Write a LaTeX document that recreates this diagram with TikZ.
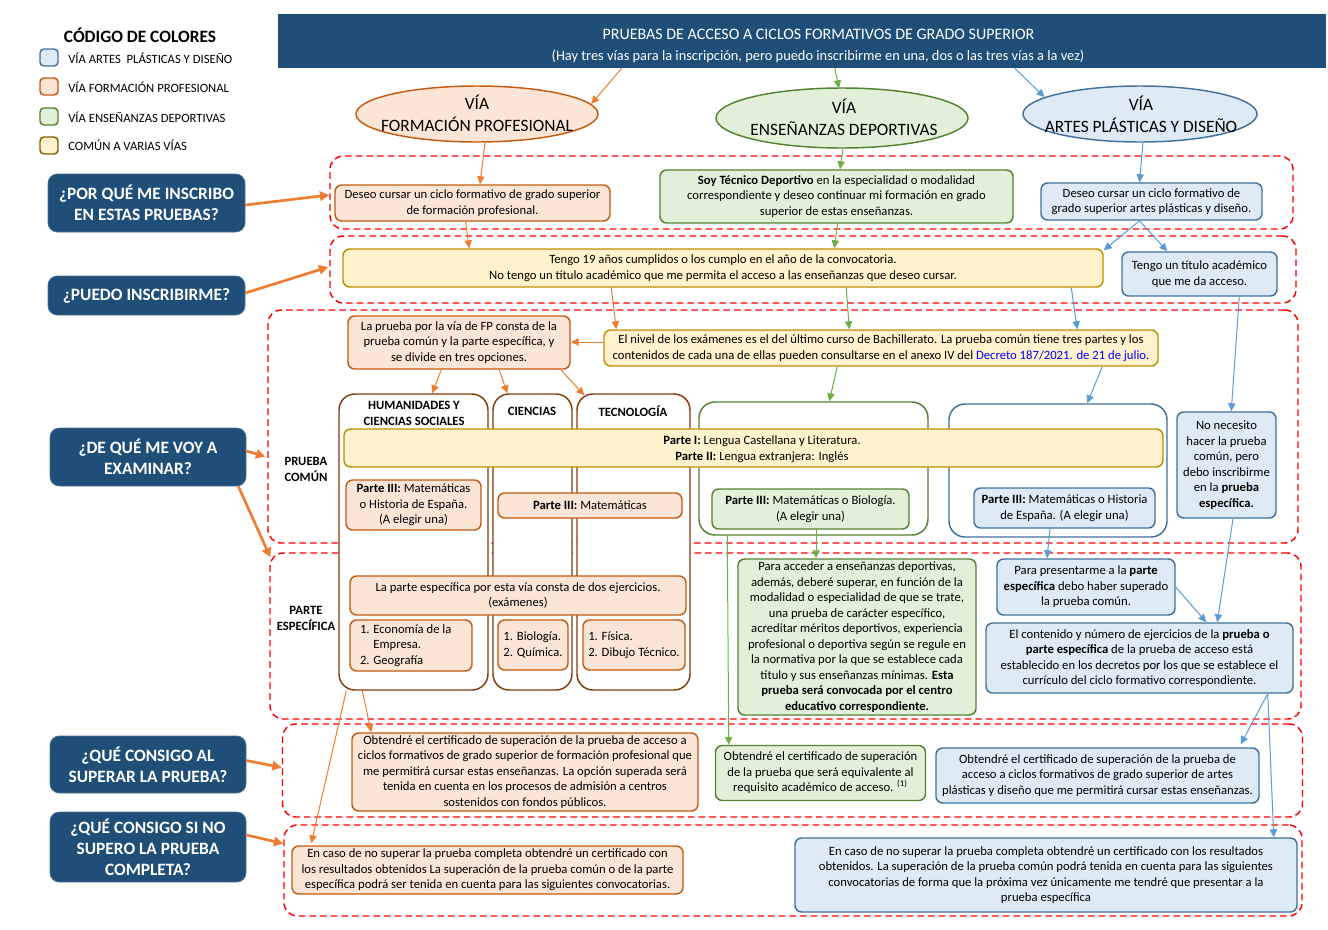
\documentclass[tikz,border=0pt]{standalone}
\usepackage{fontspec}
\setmainfont{Carlito}
\usetikzlibrary{arrows.meta,calc,shapes.geometric}
\definecolor{navy}{HTML}{1F4E79}
\definecolor{orF}{HTML}{FBE5D6}
\definecolor{orD}{HTML}{C55A11}
\definecolor{orA}{HTML}{ED7D31}
\definecolor{grF}{HTML}{E2F0D9}
\definecolor{grD}{HTML}{548235}
\definecolor{grA}{HTML}{70AD47}
\definecolor{blF}{HTML}{DEEBF7}
\definecolor{blD}{HTML}{41719C}
\definecolor{blA}{HTML}{5B9BD5}
\definecolor{yeF}{HTML}{FFF2CC}
\definecolor{yeD}{HTML}{BF9000}
\definecolor{yeL}{HTML}{7F6000}
\definecolor{brD}{HTML}{843C0C}
\definecolor{linkblue}{HTML}{0000FF}
\begin{document}
\begin{tikzpicture}[x=0.75pt,y=-0.75pt,
  font=\fontsize{9.5}{11.6}\selectfont,
  sz/.style 2 args={minimum width=#1*0.75pt, minimum height=#2*0.75pt},
  fpbox/.style={draw=orD, fill=orF, line width=1.1pt, rounded corners=5pt, align=center, inner sep=0pt},
  edbox/.style={draw=grD, fill=grF, line width=1.1pt, rounded corners=5pt, align=center, inner sep=0pt},
  apbox/.style={draw=blD, fill=blF, line width=1.1pt, rounded corners=5pt, align=center, inner sep=0pt},
  combox/.style={draw=yeD, fill=yeF, line width=1.1pt, rounded corners=5pt, align=center, inner sep=0pt},
  contbox/.style={fill=white, line width=1.1pt, rounded corners=12pt, inner sep=0pt},
  regbox/.style={draw=red, dash pattern=on 5pt off 3pt, line width=1.1pt, rounded corners=10pt, inner sep=0pt},
  qbox/.style={fill=navy, draw=navy!80!white, line width=0.6pt, rounded corners=7pt, text=white, align=center, inner sep=0pt, font=\fontsize{13}{15.8}\selectfont\bfseries},
  legsq/.style={line width=1.1pt, rounded corners=3pt, sz={18}{17}, inner sep=0pt},
  legtx/.style={anchor=west, inner sep=0pt, font=\fontsize{9.5}{11}\selectfont},
  eltx/.style={align=center, font=\fontsize{13}{16.5}\selectfont},
  coltit/.style={align=center, font=\fontsize{9.5}{12}\selectfont\bfseries},
  lbl/.style={align=center, font=\fontsize{9.5}{12}\selectfont\bfseries},
  fparr/.style={draw=orA, line width=0.75pt, -{Triangle[length=6pt,width=5.5pt]}},
  edarr/.style={draw=grA, line width=0.75pt, -{Triangle[length=6pt,width=5.5pt]}},
  aparr/.style={draw=blA, line width=0.75pt, -{Triangle[length=6pt,width=5.5pt]}},
  qarr/.style={draw=orA, line width=2pt, -{Triangle[length=7pt,width=7pt]}}
]
\useasboundingbox (0,0) rectangle (1328,929);
\fill[white] (0,0) rectangle (1328,929);

% dashed regions
\node[regbox, sz={963}{73}] (r1) at (811.5,192.5) {};
\node[regbox, sz={966}{67}] (r2) at (813,269.5) {};
\node[regbox, sz={1030}{233}] (r3) at (783,426.5) {};
\node[regbox, sz={1031}{166}] (r4) at (785.5,636) {};
\node[regbox, sz={1020}{93}] (r5) at (792.5,770.5) {};
\node[regbox, sz={1018}{91}] (r6) at (793,870.5) {};

% legend
\node[font=\fontsize{13}{15}\selectfont\bfseries, inner sep=0pt] (legT) at (140,35) {CÓDIGO DE COLORES};
\node[legsq, fill=blF, draw=blD] (lg1) at (49,57.5) {};
\node[legsq, fill=orF, draw=orD] (lg2) at (49,86.5) {};
\node[legsq, fill=grF, draw=grD] (lg3) at (49,116.5) {};
\node[legsq, fill=yeF, draw=yeL] (lg4) at (49,145.5) {};
\node[legtx] (lt1) at (68,58) {VÍA ARTES~ PLÁSTICAS Y DISEÑO};
\node[legtx] (lt2) at (68,87) {VÍA FORMACIÓN PROFESIONAL};
\node[legtx] (lt3) at (68,117) {VÍA ENSEÑANZAS DEPORTIVAS};
\node[legtx] (lt4) at (68,145) {COMÚN A VARIAS VÍAS};

% header
\node[fill=navy, sz={1048}{54}, inner sep=0pt] (hdr) at (802,41) {};
\node[text=white, inner sep=0pt, font=\fontsize{12}{13.5}\selectfont] (hdrT1) at (818.5,34.5) {PRUEBAS DE ACCESO A CICLOS FORMATIVOS DE GRADO SUPERIOR};
\node[text=white, inner sep=0pt, font=\fontsize{10.8}{13}\selectfont] (hdrT2) at (818,56) {(Hay tres vías para la inscripción, pero puedo inscribirme en una, dos o las tres vías a la vez)};

% ellipses
\node[ellipse, fill=orF, draw=orD, line width=1.1pt, sz={242}{56}, inner sep=0pt] (elFP) at (477,114) {};
\node[eltx] (elFPt) at (477,113) {VÍA\\FORMACIÓN PROFESIONAL};
\node[ellipse, fill=grF, draw=grD, line width=1.1pt, sz={252}{60}, inner sep=0pt] (elED) at (842,118) {};
\node[eltx] (elEDt) at (844,117) {VÍA\\ENSEÑANZAS DEPORTIVAS};
\node[ellipse, fill=blF, draw=blD, line width=1.1pt, sz={234}{56}, inner sep=0pt] (elAP) at (1140,114) {};
\node[eltx] (elAPt) at (1141,114) {VÍA\\ARTES PLÁSTICAS Y DISEÑO};

% questions
\node[qbox, sz={197}{58}] (q1) at (146.5,203) {¿POR QUÉ ME INSCRIBO\\EN ESTAS PRUEBAS?};
\node[qbox, sz={197}{39}] (q2) at (146.5,295.5) {¿PUEDO INSCRIBIRME?};
\node[qbox, sz={196}{58}] (q3) at (148,457) {¿DE QUÉ ME VOY A\\EXAMINAR?};
\node[qbox, sz={196}{57}] (q4) at (148,764.5) {¿QUÉ CONSIGO AL\\SUPERAR LA PRUEBA?};
\node[qbox, sz={196}{70}] (q5) at (148,847) {¿QUÉ CONSIGO SI NO\\SUPERO LA PRUEBA\\COMPLETA?};

% row 1
\node[fpbox, sz={275}{36}] (b1fp) at (472.5,203) {Deseo cursar un ciclo formativo de grado superior\\de formación profesional.};
\node[edbox, sz={353}{53}] (b1ed) at (836.5,196.5) {\textbf{Soy Técnico Deportivo} en la especialidad o modalidad\\correspondiente y deseo continuar mi formación en grado\\superior de estas enseñanzas.};
\node[apbox, sz={221}{37}] (b1ap) at (1151.5,201.5) {Deseo cursar un ciclo formativo de\\grado superior artes plásticas y diseño.};

% row 2
\node[combox, sz={760}{38}] (b2y) at (723,268) {Tengo 19 años cumplidos o los cumplo en el año de la convocatoria.\\No tengo un título académico que me permita el acceso a las enseñanzas que deseo cursar.};
\node[apbox, sz={155}{44}] (b2ap) at (1199.5,274) {Tengo un título académico\\que me da acceso.};

% row 3
\node[fpbox, sz={222}{53}] (b3fp) at (459,342.5) {La prueba por la vía de FP consta de la\\prueba común y la parte específica, y\\se divide en tres opciones.};
\node[combox, sz={554}{36}] (b3y) at (881,348) {El nivel de los exámenes es el del último curso de Bachillerato. La prueba común tiene tres partes y los\\contenidos de cada una de ellas pueden consultarse en el anexo IV del \textcolor{linkblue}{Decreto 187/2021. de 21 de julio}.};

\node[contbox, draw=brD, sz={149}{296}] (cHUM) at (413.5,542) {};
\node[contbox, draw=brD, sz={79}{296}] (cCIE) at (532.5,542) {};
\node[contbox, draw=brD, sz={113}{296}] (cTEC) at (633.5,542) {};
\node[contbox, draw=grD, sz={229}{133}] (cED) at (813.5,468.5) {};
\node[contbox, draw=blD, sz={218}{133}] (cAP) at (1058,470.5) {};

\node[coltit] (tHUM) at (414,413) {HUMANIDADES Y\\CIENCIAS SOCIALES};
\node[coltit] (tCIE) at (532,411) {CIENCIAS};
\node[coltit] (tTEC) at (633,411) {TECNOLOGÍA};

\node[combox, sz={819}{38}] (bar) at (753.5,448) {};
\node[align=center, inner sep=0pt] (barT) at (762,449) {\textbf{Parte I:} Lengua Castellana y Literatura.\\\textbf{Parte II:} Lengua extranjera: Inglés};

\node[apbox, sz={99}{106}] (bNo) at (1226.5,465) {No necesito\\hacer la prueba\\común, pero\\debo inscribirme\\en la \textbf{prueba}\\\textbf{específica.}};

\node[fpbox, sz={135}{50}] (p3hum) at (413.5,505) {\textbf{Parte III:} Matemáticas\\o Historia de España.\\(A elegir una)};
\node[fpbox, sz={184}{25}] (p3ct) at (590,505.5) {\textbf{Parte III:} Matemáticas};
\node[edbox, sz={197}{40}] (p3ed) at (810.5,509) {\textbf{Parte III:} Matemáticas o Biología.\\(A elegir una)};
\node[apbox, sz={181}{40}] (p3ap) at (1064.5,508) {\textbf{Parte III:} Matemáticas o Historia\\de España. (A elegir una)};

\node[lbl] (lPC) at (306,469) {PRUEBA\\COMÚN};
\node[lbl] (lPE) at (306,618) {PARTE\\ESPECÍFICA};

% row 4
\node[fpbox, sz={336}{39}] (e4fp) at (518,595.5) {La parte específica por esta vía consta de dos ejercicios.\\(exámenes)};
\node[fpbox, sz={122}{51}, align=flush left, inner xsep=7.5pt, text width=\dimexpr 102pt*3/4\relax] (e4hum) at (411,645.5) {1. Economía de la\\\phantom{1. }Empresa.\\2. Geografía};
\node[fpbox, sz={70}{50}, align=left] (e4cie) at (533,645) {1. Biología.\\2. Química.};
\node[fpbox, sz={102}{50}, align=left] (e4tec) at (634,645) {1. Física.\\2. Dibujo Técnico.};
\node[edbox, sz={238}{156}] (e4ed) at (857,637) {Para acceder a enseñanzas deportivas,\\además, deberé superar, en función de la\\modalidad o especialidad de que se trate,\\una prueba de carácter específico,\\acreditar méritos deportivos, experiencia\\profesional o deportiva según se regule en\\la normativa por la que se establece cada\\título y sus enseñanzas mínimas. \textbf{Esta}\\\textbf{prueba será convocada por el centro}\\\textbf{educativo correspondiente.}};
\node[apbox, sz={178}{56}] (e4ap1) at (1086,587) {Para presentarme a la \textbf{parte}\\\textbf{específica} debo haber superado\\la prueba común.};
\node[apbox, sz={307}{70}] (e4ap2) at (1139.5,658) {El contenido y número de ejercicios de la \textbf{prueba o}\\\textbf{parte específica} de la prueba de acceso está\\establecido en los decretos por los que se establece el\\currículo del ciclo formativo correspondiente.};

% row 5
\node[fpbox, sz={346}{78}] (r5fp) at (525,772) {Obtendré el certificado de superación de la prueba de acceso a\\ciclos formativos de grado superior de formación profesional que\\me permitirá cursar estas enseñanzas. La opción superada será\\tenida en cuenta en los procesos de admisión a centros\\sostenidos con fondos públicos.};
\node[edbox, sz={210}{55}] (r5ed) at (820.5,773) {Obtendré el certificado de superación\\de la prueba que será equivalente al\\requisito académico de acceso. \textsuperscript{(1)}};
\node[apbox, sz={323}{55}] (r5ap) at (1097.5,775.5) {Obtendré el certificado de superación de la prueba de\\acceso a ciclos formativos de grado superior de artes\\plásticas y diseño que me permitirá cursar estas enseñanzas.};

% row 6
\node[fpbox, sz={391}{48}] (r6fp) at (487.5,870) {En caso de no superar la prueba completa obtendré un certificado con\\los resultados obtenidos La superación de la prueba común o de la parte\\específica podrá ser tenida en cuenta para las siguientes convocatorias.};
\node[apbox, sz={502}{74}] (r6ap) at (1046,875) {En caso de no superar la prueba completa obtendré un certificado con los resultados\\obtenidos. La superación de la prueba común podrá tenida en cuenta para las siguientes\\convocatorias de forma que la próxima vez únicamente me tendré que presentar a la\\prueba específica};

% question arrows
\draw[qarr] ($(q1.east)+(0,2)$) -- ($(r1.west)+(0,2.5)$);
\draw[qarr] ($(q2.east)+(0,-2.5)$) -- ($(r2.west)+(-1,-2.5)$);
\draw[qarr] ($(q3.east)+(0,-6)$) -- ($(r3.west)+(-2,30)$);
\draw[qarr] ($(q3.south east)+(-8,0)$) -- ($(r4.north west)+(1,5)$);
\draw[qarr] ($(q4.east)+(0,-4)$) -- ($(r5.west)+(0,-3)$);
\draw[qarr] ($(q5.east)+(0,-12)$) -- ($(r6.west)+(0,-27)$);

% header to ellipses
\draw[fparr] ($(hdr.south west)+(344,0)$) -- (elFP.5);
\draw[edarr] ($(hdr.south west)+(557,0)$) -- ($(elED.north)+(-3,1)$);
\draw[aparr] ($(hdr.south west)+(737,0)$) -- (elAP.170);

% ellipses to row 1
\draw[fparr] ($(elFP.south)+(8,0)$) -- ($(b1fp.north)+(7.5,0)$);
\draw[edarr] ($(elED.south)+(1,0)$) -- ($(b1ed.north)+(3.5,0)$);
\draw[aparr] ($(elAP.south)+(3,0)$) -- ($(b1ap.north)+(-12,0)$);

% row 1 to row 2
\draw[fparr] ($(b1fp.south)+(-7,0)$) -- ($(b2y.north west)+(127,0)$);
\draw[edarr] ($(b1ed.south)+(1,0)$) -- ($(b2y.north west)+(492,0)$);
\draw[aparr] ($(b1ap.south)+(-12,0)$) -- ($(b2y.north east)+(0,2)$);
\draw[aparr] ($(b1ap.south)+(-12,0)$) -- ($(b2ap.north west)+(46,0)$);

% row 2 to row 3
\draw[fparr] ($(b2y.south west)+(269,0)$) -- ($(b3y.north west)+(13,0)$);
\draw[edarr] ($(b2y.south west)+(504,0)$) -- ($(b3y.north west)+(246,0)$);
\draw[aparr] ($(b2y.south west)+(729,0)$) -- ($(b3y.north west)+(474,0)$);
\draw[aparr] ($(b2ap.south west)+(118,0)$) -- ($(bNo.north west)+(55,0)$);
\draw[fparr] ($(b3y.west)+(0,-6)$) -- ($(b3fp.east)+(0,-0.5)$);
\draw[fparr] ($(b3fp.south west)+(94,0)$) -- ($(cHUM.north west)+(94,0)$);
\draw[fparr] ($(b3fp.south west)+(152,0)$) -- ($(cCIE.north west)+(15,0)$);
\draw[fparr] ($(b3fp.south east)+(-10,0)$) -- ($(cTEC.north west)+(8,2)$);
\draw[edarr] ($(b3y.south west)+(234,0)$) -- ($(cED.north west)+(131,0)$);
\draw[aparr] ($(b3y.south west)+(499,0)$) -- ($(cAP.north west)+(139,0)$);

% row 3 to row 4
\draw[edarr] ($(p3ed.south)+(5.5,0)$) -- ($(e4ed.north)+(-41,0)$);
\draw[aparr] ($(p3ap.south)+(-14.5,0)$) -- ($(e4ap1.north)+(-39,0)$);
\draw[aparr] (e4ap1.east) -- ($(e4ap2.north west)+(221,0)$);
\draw[aparr] ($(bNo.south)+(6.5,0)$) -- ($(e4ap2.north west)+(232,0)$);

% to rows 5 and 6
\draw[fparr] ($(cHUM.south west)+(24,0)$) -- ($(r5fp.north west)+(20,0)$);
\draw[fparr] ($(cHUM.south west)+(8,0)$) -- ($(r6fp.north west)+(20,-2)$);
\draw[edarr] ($(cED.south west)+(29,0)$) -- ($(r5ed.north west)+(14,0)$);
\draw[aparr] ($(e4ap2.south east)+(-26,0)$) -- ($(r5ap.north east)+(-19,-3)$);
\draw[aparr] ($(e4ap2.south east)+(-26,0)$) -- ($(r6ap.north east)+(-24,0)$);
\end{tikzpicture}
\end{document}
